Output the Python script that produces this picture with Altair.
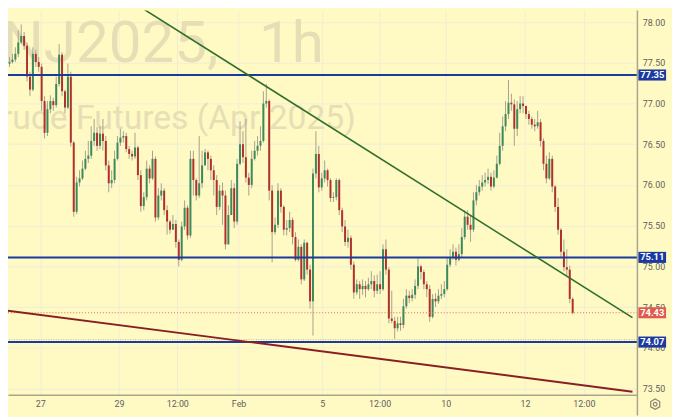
import altair as alt
import pandas as pd

# ---------------- data ----------------
first_open = 77.45
closes = [77.49, 77.51, 77.54, 77.61, 77.75, 77.83, 77.71, 77.33, 77.17, 77.61,
          77.51, 77.45, 77.03, 76.64, 76.93, 77.03, 76.98, 77.24, 77.60, 77.15,
          76.95, 77.33, 76.52, 75.67, 76.03, 76.08, 76.20, 76.32, 76.36, 76.54,
          76.64, 76.48, 76.63, 76.54, 76.24, 76.02, 76.06, 76.32, 76.52, 76.58,
          76.60, 76.44, 76.38, 76.35, 76.46, 76.12, 75.74, 75.85, 76.20, 76.08,
          76.32, 75.60, 75.87, 75.93, 75.69, 75.55, 75.45, 75.52, 75.30, 75.08,
          75.49, 75.72, 75.38, 76.32, 76.06, 75.87, 76.02, 76.24, 76.40, 76.32,
          76.18, 76.06, 75.73, 75.93, 75.87, 75.27, 75.63, 75.96, 75.55, 76.26,
          76.50, 76.34, 76.09, 76.00, 76.32, 76.42, 76.48, 76.54, 77.00, 77.03,
          75.93, 75.42, 75.51, 75.93, 75.73, 75.45, 75.47, 75.57, 75.36, 75.08,
          75.24, 74.84, 75.29, 74.96, 74.57, 76.14, 76.38, 75.97, 76.08, 76.18,
          76.06, 75.84, 75.85, 76.06, 75.69, 75.49, 75.30, 75.35, 75.02, 74.68,
          74.78, 74.72, 74.76, 74.72, 74.78, 74.82, 74.70, 74.78, 74.72, 75.21,
          74.96, 74.36, 74.33, 74.24, 74.30, 74.28, 74.51, 74.64, 74.61, 74.65,
          74.76, 75.00, 74.93, 74.78, 74.72, 74.38, 74.60, 74.57, 74.64, 74.66,
          74.72, 75.02, 75.11, 75.18, 75.08, 75.15, 75.36, 75.61, 75.51, 75.45,
          75.81, 75.91, 75.98, 76.03, 76.06, 76.10, 75.98, 76.09, 76.26, 76.48,
          76.72, 76.87, 77.01, 76.99, 76.69, 76.93, 77.00, 76.97, 76.87, 76.81,
          76.74, 76.72, 76.77, 76.54, 76.26, 76.08, 76.32, 75.98, 75.73, 75.45,
          75.18, 74.99, 74.96, 74.60, 74.43]
highs = [77.55, 77.57, 77.61, 77.69, 77.90, 77.97, 77.88, 77.75, 77.39, 77.69,
         77.66, 77.57, 77.49, 77.09, 77.03, 77.10, 77.07, 77.33, 77.73, 77.63,
         77.17, 77.49, 77.39, 76.54, 76.10, 76.18, 76.30, 76.42, 76.54, 76.72,
         76.81, 76.71, 76.72, 76.81, 76.60, 76.30, 76.18, 76.42, 76.60, 76.69,
         76.66, 76.64, 76.48, 76.42, 76.64, 76.48, 76.18, 75.91, 76.30, 76.24,
         76.42, 76.35, 75.96, 76.02, 75.96, 75.75, 75.57, 75.63, 75.57, 75.33,
         75.55, 75.81, 75.75, 76.42, 76.42, 76.08, 76.60, 76.42, 76.44, 76.42,
         76.36, 76.24, 76.12, 76.00, 76.03, 75.93, 75.75, 76.06, 76.02, 76.32,
         76.78, 76.66, 76.81, 76.15, 76.42, 76.54, 76.60, 76.72, 77.15, 77.24,
         77.05, 76.00, 75.60, 76.02, 75.96, 75.75, 75.57, 75.67, 75.60, 75.42,
         75.33, 75.27, 75.33, 75.30, 75.02, 76.20, 76.66, 76.48, 76.15, 76.30,
         76.20, 76.08, 75.91, 76.08, 76.08, 75.72, 75.57, 75.45, 75.38, 75.06,
         74.84, 74.82, 74.84, 74.82, 74.86, 74.94, 74.89, 74.90, 74.94, 75.27,
         75.33, 74.99, 74.70, 74.38, 74.38, 74.38, 74.60, 74.72, 74.70, 74.72,
         74.84, 75.11, 75.02, 74.96, 74.82, 74.77, 74.66, 74.67, 74.72, 74.78,
         74.82, 75.11, 75.21, 75.27, 75.23, 75.27, 75.47, 75.69, 75.69, 75.63,
         75.91, 76.00, 76.06, 76.12, 76.15, 76.20, 76.15, 76.18, 76.36, 76.64,
         76.84, 77.03, 77.29, 77.12, 77.05, 77.03, 77.09, 77.09, 76.97, 76.91,
         76.84, 76.81, 76.91, 76.81, 76.57, 76.36, 76.40, 76.36, 76.00, 75.84,
         75.47, 75.33, 75.21, 75.01, 74.62]
lows = [77.44, 77.45, 77.49, 77.51, 77.57, 77.73, 77.66, 77.27, 77.09, 77.15,
        77.45, 77.39, 76.91, 76.57, 76.60, 76.88, 76.91, 76.95, 77.21, 77.09,
        76.88, 76.93, 76.47, 75.61, 75.64, 75.98, 76.06, 76.18, 76.27, 76.32,
        76.48, 76.42, 76.44, 76.42, 76.18, 75.91, 75.96, 76.02, 76.30, 76.48,
        76.52, 76.40, 76.32, 76.30, 76.32, 76.06, 75.67, 75.69, 75.81, 76.02,
        76.06, 75.55, 75.57, 75.81, 75.63, 75.39, 75.40, 75.45, 75.23, 75.00,
        75.06, 75.45, 75.33, 75.35, 75.87, 75.81, 75.84, 75.96, 76.24, 76.18,
        76.06, 75.87, 75.63, 75.69, 75.51, 75.21, 75.27, 75.63, 75.47, 75.51,
        76.24, 76.27, 76.03, 75.87, 75.96, 76.30, 76.36, 76.42, 76.52, 76.95,
        75.81, 75.05, 75.39, 75.47, 75.66, 75.38, 75.38, 75.42, 75.27, 75.06,
        75.06, 74.78, 74.82, 74.90, 74.48, 74.15, 76.08, 75.91, 75.93, 76.03,
        75.98, 75.79, 75.79, 75.81, 75.63, 75.42, 75.25, 75.23, 74.96, 74.60,
        74.65, 74.60, 74.65, 74.62, 74.70, 74.72, 74.62, 74.66, 74.66, 74.70,
        74.90, 74.30, 74.30, 74.11, 74.20, 74.21, 74.24, 74.48, 74.55, 74.57,
        74.60, 74.72, 74.84, 74.72, 74.62, 74.32, 74.36, 74.50, 74.54, 74.60,
        74.62, 74.70, 74.99, 75.08, 75.01, 75.06, 75.11, 75.33, 75.45, 75.30,
        75.42, 75.75, 75.87, 75.93, 75.98, 76.01, 75.93, 75.96, 76.08, 76.24,
        76.42, 76.66, 76.81, 76.91, 76.48, 76.60, 76.88, 76.88, 76.81, 76.74,
        76.69, 76.66, 76.69, 76.47, 76.18, 76.02, 76.06, 75.91, 75.67, 75.39,
        75.11, 74.94, 74.89, 74.55, 74.41]

level_values = [77.35, 75.11, 74.07]
last_price = [74.43]
gray_level = [74.10]
y_ticks = [73.5, 74.0, 74.5, 75.0, 75.5, 76.0, 76.5, 77.0, 77.5, 78.0]
tick_pos = [11.5, 38.5, 58.5, 79.5, 108.17, 127.83, 150.5, 177.67, 197.83]
tick_text = ["27", "29", "12:00", "Feb", "5", "12:00", "10", "12", "12:00"]
green_line_i = [43.4, 214.5]
green_line_p = [78.24, 74.37]
red_line_i = [-0.5, 214.5]
red_line_p = [74.46, 73.46]
wm_symbol = "BRNJ2025,"
wm_interval = "1h"
wm_desc = "Brent Crude Futures (Apr 2025)"

# ---------------- tables ----------------
opens = [first_open] + closes[:-1]
candles = pd.DataFrame({
    "i": list(range(len(closes))),
    "open": opens, "close": closes, "high": highs, "low": lows,
})
candles["dir"] = ["up" if c >= o else "down" for o, c in zip(opens, closes)]

BG = "#fff9c4"
GRID = "#f0edd8"
AXIS = "#a9a58f"
LBL = "#5f5f5f"
BLUE = "#1b3a9f"
UP = "#3b8a5b"
DOWN = "#b1302b"
WM = "#e6dfb6"

xscale = alt.Scale(domain=[2.1667, 214.5], nice=False, zero=False)
yscale = alt.Scale(domain=[73.4223, 78.143], nice=False, zero=False)

label_expr = "[" + ",".join("'%s'" % t for t in tick_text) + "][indexof([" + \
    ",".join(str(v) for v in tick_pos) + "], datum.value)]"

x_axis = alt.Axis(values=tick_pos, labelExpr=label_expr, title=None, grid=True,
                  gridColor=GRID, gridWidth=1, ticks=False, domain=True,
                  domainColor=AXIS, domainWidth=1.5, labelColor=LBL, labelFontSize=9,
                  labelFont="Roboto", labelPadding=5, labelOverlap=False,
                  labelFlush=False)
y_axis = alt.Axis(values=y_ticks, format=".2f", orient="right", title=None, grid=True,
                  gridColor=GRID, gridWidth=1, ticks=False, domain=False,
                  labelColor=LBL, labelFontSize=9, labelFont="Roboto",
                  labelPadding=5, labelOverlap=False, labelFlush=False)


def X(field):
    return alt.X(field, scale=xscale, axis=x_axis)


def Y(field):
    return alt.Y(field, scale=yscale, axis=y_axis)


base = alt.Chart(candles)

wicks = base.mark_rule(color="#a6a28f", strokeWidth=1).encode(
    x=X("i:Q"), y=Y("low:Q"), y2="high:Q")
bodies = base.mark_bar(size=2).encode(
    x=X("i:Q"), y=Y("open:Q"), y2="close:Q",
    color=alt.Color("dir:N", scale=alt.Scale(domain=["up", "down"], range=[UP, DOWN]),
                    legend=None),
)

one = pd.DataFrame({"k": [0]})
wm1 = alt.Chart(one).mark_text(text=wm_symbol, fontSize=59, font="Roboto", color=WM,
                               align="right", baseline="alphabetic", clip=True).encode(
    x=alt.value(213), y=alt.value(52))
wm2 = alt.Chart(one).mark_text(text=wm_interval, fontSize=59, font="Roboto", color=WM,
                               align="left", baseline="alphabetic", clip=True).encode(
    x=alt.value(254), y=alt.value(52))
wm3 = alt.Chart(one).mark_text(text=wm_desc, fontSize=34, font="Roboto", color=WM,
                               align="right", baseline="alphabetic", clip=True).encode(
    x=alt.value(352), y=alt.value(120))

levels = alt.Chart(pd.DataFrame({"p": level_values})).mark_rule(
    color=BLUE, strokeWidth=2).encode(y=Y("p:Q"))
last_line = alt.Chart(pd.DataFrame({"p": last_price})).mark_rule(
    color="#e2685c", strokeWidth=1, strokeDash=[1, 2]).encode(y=Y("p:Q"))
gray_line = alt.Chart(pd.DataFrame({"p": gray_level})).mark_rule(
    color="#bdb9a4", strokeWidth=1, strokeDash=[1, 1.5]).encode(y=Y("p:Q"))

green_tl = alt.Chart(pd.DataFrame({"i": green_line_i, "p": green_line_p})).mark_line(
    color="#2f6e2c", strokeWidth=1.6, clip=True).encode(x=X("i:Q"), y=Y("p:Q"))
red_tl = alt.Chart(pd.DataFrame({"i": red_line_i, "p": red_line_p})).mark_line(
    color="#8a1f22", strokeWidth=2, clip=True).encode(x=X("i:Q"), y=Y("p:Q"))

axis_line = alt.Chart(one).mark_rule(color=AXIS, strokeWidth=1.5).encode(
    x=alt.value(637), y=alt.value(0), y2=alt.value(410))


def tag(values, fill):
    src = alt.Chart(pd.DataFrame({"p": values})).transform_calculate(
        lo="datum.p - 0.068", hi="datum.p + 0.068", label="format(datum.p, '.2f')")
    box = src.mark_rect(color=fill).encode(
        x=alt.value(638), x2=alt.value(666), y=Y("lo:Q"), y2="hi:Q")
    txt = src.mark_text(color="white", fontWeight="bold", fontSize=9.5, font="Roboto",
                        align="center", baseline="middle").encode(
        x=alt.value(652), y=Y("p:Q"), text="label:N")
    return box + txt


blue_tags = tag(level_values, BLUE)
red_tag = tag(last_price, "#e05a4d")

hexagon = "M0,-1L0.866,-0.5L0.866,0.5L0,1L-0.866,0.5L-0.866,-0.5Z"
gear1 = alt.Chart(one).mark_point(shape=hexagon, size=110, filled=False, color="#555555",
                                  strokeWidth=1.2).encode(x=alt.value(655), y=alt.value(398.5))
gear2 = alt.Chart(one).mark_point(shape="circle", size=14, filled=False, color="#555555",
                                  strokeWidth=1.2).encode(x=alt.value(655), y=alt.value(398.5))

chart = alt.layer(
    wm1, wm2, wm3, wicks, bodies, gray_line, levels, last_line,
    green_tl, red_tl, axis_line, blue_tags, red_tag, gear1, gear2,
).resolve_scale(x="shared", y="shared").properties(
    width=637, height=389,
    background=BG,
    padding={"left": 0, "top": 0, "right": 35, "bottom": 21},
    autosize=alt.AutoSizeParams(type="none"),
).configure_view(stroke=None, fill=BG)

chart.save("out.html", embed_options={"renderer": "svg", "actions": False})
